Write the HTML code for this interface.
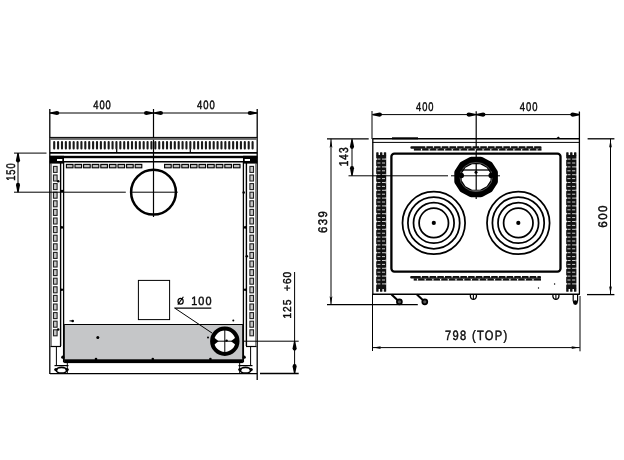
<!DOCTYPE html>
<html><head><meta charset="utf-8"><style>
html,body{margin:0;padding:0;background:#fff;width:624px;height:460px;overflow:hidden}
svg{display:block}
text{fill:#111}
svg{will-change:transform}
</style></head><body>
<svg width="624" height="460" viewBox="0 0 624 460">
<rect width="624" height="460" fill="#fff"/>
<line x1="49.80" y1="109.00" x2="49.80" y2="374.00" stroke="#000" stroke-width="1.3"/>
<line x1="257.20" y1="109.00" x2="257.20" y2="380.00" stroke="#000" stroke-width="1.3"/>
<line x1="153.50" y1="109.00" x2="153.50" y2="217.00" stroke="#000" stroke-width="1.2"/>
<line x1="49.80" y1="113.00" x2="257.20" y2="113.00" stroke="#000" stroke-width="1.0"/>
<path d="M49.80,112.40 L56.92,110.95 Q59.30,110.95 59.30,113.00 Q59.30,115.05 56.92,115.05 L49.80,113.60 Z" fill="#000"/>
<path d="M153.50,112.40 L146.38,110.95 Q144.00,110.95 144.00,113.00 Q144.00,115.05 146.38,115.05 L153.50,113.60 Z" fill="#000"/>
<path d="M153.50,112.40 L160.62,110.95 Q163.00,110.95 163.00,113.00 Q163.00,115.05 160.62,115.05 L153.50,113.60 Z" fill="#000"/>
<path d="M257.20,112.40 L250.07,110.95 Q247.70,110.95 247.70,113.00 Q247.70,115.05 250.07,115.05 L257.20,113.60 Z" fill="#000"/>
<g transform="translate(93.313,109.079) scale(0.7708,1)"><text x="0" y="0" font-family="Liberation Sans" font-size="12.113" letter-spacing="1.211" fill="#000" stroke="#000" stroke-width="0.45" text-rendering="geometricPrecision" xml:space="preserve">400</text></g>
<g transform="translate(197.111,109.079) scale(0.7800,1)"><text x="0" y="0" font-family="Liberation Sans" font-size="12.113" letter-spacing="1.211" fill="#000" stroke="#000" stroke-width="0.45" text-rendering="geometricPrecision" xml:space="preserve">400</text></g>
<rect x="49.80" y="137.50" width="207.40" height="2.40" fill="#6a6a6a"/>
<line x1="49.80" y1="137.40" x2="257.20" y2="137.40" stroke="#000" stroke-width="1.0"/>
<rect x="53.15" y="141.10" width="2.10" height="8.30" fill="#1a1a1a" rx="1"/>
<rect x="57.04" y="141.10" width="2.10" height="8.30" fill="#1a1a1a" rx="1"/>
<rect x="60.93" y="141.10" width="2.10" height="8.30" fill="#1a1a1a" rx="1"/>
<rect x="64.82" y="141.10" width="2.10" height="8.30" fill="#1a1a1a" rx="1"/>
<rect x="68.71" y="141.10" width="2.10" height="8.30" fill="#1a1a1a" rx="1"/>
<rect x="72.60" y="141.10" width="2.10" height="8.30" fill="#1a1a1a" rx="1"/>
<rect x="76.49" y="141.10" width="2.10" height="8.30" fill="#1a1a1a" rx="1"/>
<rect x="80.38" y="141.10" width="2.10" height="8.30" fill="#1a1a1a" rx="1"/>
<rect x="84.27" y="141.10" width="2.10" height="8.30" fill="#1a1a1a" rx="1"/>
<rect x="88.16" y="141.10" width="2.10" height="8.30" fill="#1a1a1a" rx="1"/>
<rect x="92.05" y="141.10" width="2.10" height="8.30" fill="#1a1a1a" rx="1"/>
<rect x="95.94" y="141.10" width="2.10" height="8.30" fill="#1a1a1a" rx="1"/>
<rect x="99.83" y="141.10" width="2.10" height="8.30" fill="#1a1a1a" rx="1"/>
<rect x="103.72" y="141.10" width="2.10" height="8.30" fill="#1a1a1a" rx="1"/>
<rect x="107.61" y="141.10" width="2.10" height="8.30" fill="#1a1a1a" rx="1"/>
<rect x="111.50" y="141.10" width="2.10" height="8.30" fill="#1a1a1a" rx="1"/>
<rect x="115.39" y="141.10" width="2.10" height="8.30" fill="#1a1a1a" rx="1"/>
<rect x="119.28" y="141.10" width="2.10" height="8.30" fill="#1a1a1a" rx="1"/>
<rect x="123.17" y="141.10" width="2.10" height="8.30" fill="#1a1a1a" rx="1"/>
<rect x="127.06" y="141.10" width="2.10" height="8.30" fill="#1a1a1a" rx="1"/>
<rect x="130.95" y="141.10" width="2.10" height="8.30" fill="#1a1a1a" rx="1"/>
<rect x="134.84" y="141.10" width="2.10" height="8.30" fill="#1a1a1a" rx="1"/>
<rect x="138.73" y="141.10" width="2.10" height="8.30" fill="#1a1a1a" rx="1"/>
<rect x="142.62" y="141.10" width="2.10" height="8.30" fill="#1a1a1a" rx="1"/>
<rect x="146.51" y="141.10" width="2.10" height="8.30" fill="#1a1a1a" rx="1"/>
<rect x="150.40" y="141.10" width="2.10" height="8.30" fill="#1a1a1a" rx="1"/>
<rect x="154.29" y="141.10" width="2.10" height="8.30" fill="#1a1a1a" rx="1"/>
<rect x="158.18" y="141.10" width="2.10" height="8.30" fill="#1a1a1a" rx="1"/>
<rect x="162.07" y="141.10" width="2.10" height="8.30" fill="#1a1a1a" rx="1"/>
<rect x="165.96" y="141.10" width="2.10" height="8.30" fill="#1a1a1a" rx="1"/>
<rect x="169.85" y="141.10" width="2.10" height="8.30" fill="#1a1a1a" rx="1"/>
<rect x="173.74" y="141.10" width="2.10" height="8.30" fill="#1a1a1a" rx="1"/>
<rect x="177.63" y="141.10" width="2.10" height="8.30" fill="#1a1a1a" rx="1"/>
<rect x="181.52" y="141.10" width="2.10" height="8.30" fill="#1a1a1a" rx="1"/>
<rect x="185.41" y="141.10" width="2.10" height="8.30" fill="#1a1a1a" rx="1"/>
<rect x="189.30" y="141.10" width="2.10" height="8.30" fill="#1a1a1a" rx="1"/>
<rect x="193.19" y="141.10" width="2.10" height="8.30" fill="#1a1a1a" rx="1"/>
<rect x="197.08" y="141.10" width="2.10" height="8.30" fill="#1a1a1a" rx="1"/>
<rect x="200.97" y="141.10" width="2.10" height="8.30" fill="#1a1a1a" rx="1"/>
<rect x="204.86" y="141.10" width="2.10" height="8.30" fill="#1a1a1a" rx="1"/>
<rect x="208.75" y="141.10" width="2.10" height="8.30" fill="#1a1a1a" rx="1"/>
<rect x="212.64" y="141.10" width="2.10" height="8.30" fill="#1a1a1a" rx="1"/>
<rect x="216.53" y="141.10" width="2.10" height="8.30" fill="#1a1a1a" rx="1"/>
<rect x="220.42" y="141.10" width="2.10" height="8.30" fill="#1a1a1a" rx="1"/>
<rect x="224.31" y="141.10" width="2.10" height="8.30" fill="#1a1a1a" rx="1"/>
<rect x="228.20" y="141.10" width="2.10" height="8.30" fill="#1a1a1a" rx="1"/>
<rect x="232.09" y="141.10" width="2.10" height="8.30" fill="#1a1a1a" rx="1"/>
<rect x="235.98" y="141.10" width="2.10" height="8.30" fill="#1a1a1a" rx="1"/>
<rect x="239.87" y="141.10" width="2.10" height="8.30" fill="#1a1a1a" rx="1"/>
<rect x="243.76" y="141.10" width="2.10" height="8.30" fill="#1a1a1a" rx="1"/>
<rect x="247.65" y="141.10" width="2.10" height="8.30" fill="#1a1a1a" rx="1"/>
<rect x="251.54" y="141.10" width="2.10" height="8.30" fill="#1a1a1a" rx="1"/>
<line x1="116.70" y1="149.00" x2="116.70" y2="152.00" stroke="#000" stroke-width="1.2"/>
<line x1="190.30" y1="149.00" x2="190.30" y2="152.00" stroke="#000" stroke-width="1.2"/>
<line x1="49.80" y1="152.80" x2="257.20" y2="152.80" stroke="#000" stroke-width="1.8"/>
<rect x="49.80" y="155.80" width="207.40" height="2.40" fill="#000"/>
<rect x="49.80" y="155.80" width="14.20" height="7.80" fill="#000"/>
<rect x="243.00" y="155.80" width="14.20" height="7.80" fill="#000"/>
<rect x="57.00" y="159.00" width="5.30" height="2.70" fill="#fff"/>
<rect x="244.70" y="159.00" width="5.30" height="2.70" fill="#fff"/>
<line x1="49.80" y1="161.80" x2="257.20" y2="161.80" stroke="#000" stroke-width="1.6"/>
<rect x="66.40" y="164.40" width="6.60" height="3.40" fill="#bbb" stroke="#000" stroke-width="1.1"/>
<rect x="164.60" y="164.40" width="6.60" height="3.40" fill="#bbb" stroke="#000" stroke-width="1.1"/>
<rect x="75.00" y="164.40" width="6.60" height="3.40" fill="#bbb" stroke="#000" stroke-width="1.1"/>
<rect x="173.20" y="164.40" width="6.60" height="3.40" fill="#bbb" stroke="#000" stroke-width="1.1"/>
<rect x="83.60" y="164.40" width="6.60" height="3.40" fill="#bbb" stroke="#000" stroke-width="1.1"/>
<rect x="181.80" y="164.40" width="6.60" height="3.40" fill="#bbb" stroke="#000" stroke-width="1.1"/>
<rect x="92.20" y="164.40" width="6.60" height="3.40" fill="#bbb" stroke="#000" stroke-width="1.1"/>
<rect x="190.40" y="164.40" width="6.60" height="3.40" fill="#bbb" stroke="#000" stroke-width="1.1"/>
<rect x="100.80" y="164.40" width="6.60" height="3.40" fill="#bbb" stroke="#000" stroke-width="1.1"/>
<rect x="199.00" y="164.40" width="6.60" height="3.40" fill="#bbb" stroke="#000" stroke-width="1.1"/>
<rect x="109.40" y="164.40" width="6.60" height="3.40" fill="#bbb" stroke="#000" stroke-width="1.1"/>
<rect x="207.60" y="164.40" width="6.60" height="3.40" fill="#bbb" stroke="#000" stroke-width="1.1"/>
<rect x="118.00" y="164.40" width="6.60" height="3.40" fill="#bbb" stroke="#000" stroke-width="1.1"/>
<rect x="216.20" y="164.40" width="6.60" height="3.40" fill="#bbb" stroke="#000" stroke-width="1.1"/>
<rect x="126.60" y="164.40" width="6.60" height="3.40" fill="#bbb" stroke="#000" stroke-width="1.1"/>
<rect x="224.80" y="164.40" width="6.60" height="3.40" fill="#bbb" stroke="#000" stroke-width="1.1"/>
<rect x="135.20" y="164.40" width="6.60" height="3.40" fill="#bbb" stroke="#000" stroke-width="1.1"/>
<rect x="233.40" y="164.40" width="6.60" height="3.40" fill="#bbb" stroke="#000" stroke-width="1.1"/>
<line x1="60.60" y1="162.00" x2="60.60" y2="346.00" stroke="#000" stroke-width="1.4"/>
<line x1="63.60" y1="162.00" x2="63.60" y2="362.00" stroke="#000" stroke-width="1.3"/>
<line x1="50.50" y1="346.50" x2="61.00" y2="346.50" stroke="#000" stroke-width="1.2"/>
<line x1="51.30" y1="163.00" x2="51.30" y2="346.00" stroke="#444" stroke-width="0.8"/>
<rect x="53.50" y="166.40" width="3.60" height="6.00" fill="#c8c8c8" stroke="#222" stroke-width="1.1"/>
<rect x="53.50" y="175.00" width="3.60" height="6.00" fill="#c8c8c8" stroke="#222" stroke-width="1.1"/>
<rect x="53.50" y="183.60" width="3.60" height="6.00" fill="#c8c8c8" stroke="#222" stroke-width="1.1"/>
<rect x="53.50" y="192.20" width="3.60" height="6.00" fill="#c8c8c8" stroke="#222" stroke-width="1.1"/>
<rect x="53.50" y="200.80" width="3.60" height="6.00" fill="#c8c8c8" stroke="#222" stroke-width="1.1"/>
<rect x="53.50" y="209.40" width="3.60" height="6.00" fill="#c8c8c8" stroke="#222" stroke-width="1.1"/>
<rect x="53.50" y="218.00" width="3.60" height="6.00" fill="#c8c8c8" stroke="#222" stroke-width="1.1"/>
<rect x="53.50" y="226.60" width="3.60" height="6.00" fill="#c8c8c8" stroke="#222" stroke-width="1.1"/>
<rect x="53.50" y="235.20" width="3.60" height="6.00" fill="#c8c8c8" stroke="#222" stroke-width="1.1"/>
<rect x="53.50" y="243.80" width="3.60" height="6.00" fill="#c8c8c8" stroke="#222" stroke-width="1.1"/>
<rect x="53.50" y="252.40" width="3.60" height="6.00" fill="#c8c8c8" stroke="#222" stroke-width="1.1"/>
<rect x="53.50" y="261.00" width="3.60" height="6.00" fill="#c8c8c8" stroke="#222" stroke-width="1.1"/>
<rect x="53.50" y="269.60" width="3.60" height="6.00" fill="#c8c8c8" stroke="#222" stroke-width="1.1"/>
<rect x="53.50" y="278.20" width="3.60" height="6.00" fill="#c8c8c8" stroke="#222" stroke-width="1.1"/>
<rect x="53.50" y="286.80" width="3.60" height="6.00" fill="#c8c8c8" stroke="#222" stroke-width="1.1"/>
<rect x="53.50" y="295.40" width="3.60" height="6.00" fill="#c8c8c8" stroke="#222" stroke-width="1.1"/>
<rect x="53.50" y="304.00" width="3.60" height="6.00" fill="#c8c8c8" stroke="#222" stroke-width="1.1"/>
<rect x="53.50" y="312.60" width="3.60" height="6.00" fill="#c8c8c8" stroke="#222" stroke-width="1.1"/>
<rect x="53.50" y="321.20" width="3.60" height="6.00" fill="#c8c8c8" stroke="#222" stroke-width="1.1"/>
<rect x="53.50" y="329.80" width="3.60" height="6.00" fill="#c8c8c8" stroke="#222" stroke-width="1.1"/>
<line x1="56.40" y1="347.00" x2="56.40" y2="366.00" stroke="#000" stroke-width="1.0"/>
<line x1="246.40" y1="162.00" x2="246.40" y2="346.00" stroke="#000" stroke-width="1.4"/>
<line x1="243.40" y1="162.00" x2="243.40" y2="362.00" stroke="#000" stroke-width="1.3"/>
<line x1="256.50" y1="346.50" x2="246.00" y2="346.50" stroke="#000" stroke-width="1.2"/>
<line x1="255.70" y1="163.00" x2="255.70" y2="346.00" stroke="#444" stroke-width="0.8"/>
<rect x="249.90" y="166.40" width="3.60" height="6.00" fill="#c8c8c8" stroke="#222" stroke-width="1.1"/>
<rect x="249.90" y="175.00" width="3.60" height="6.00" fill="#c8c8c8" stroke="#222" stroke-width="1.1"/>
<rect x="249.90" y="183.60" width="3.60" height="6.00" fill="#c8c8c8" stroke="#222" stroke-width="1.1"/>
<rect x="249.90" y="192.20" width="3.60" height="6.00" fill="#c8c8c8" stroke="#222" stroke-width="1.1"/>
<rect x="249.90" y="200.80" width="3.60" height="6.00" fill="#c8c8c8" stroke="#222" stroke-width="1.1"/>
<rect x="249.90" y="209.40" width="3.60" height="6.00" fill="#c8c8c8" stroke="#222" stroke-width="1.1"/>
<rect x="249.90" y="218.00" width="3.60" height="6.00" fill="#c8c8c8" stroke="#222" stroke-width="1.1"/>
<rect x="249.90" y="226.60" width="3.60" height="6.00" fill="#c8c8c8" stroke="#222" stroke-width="1.1"/>
<rect x="249.90" y="235.20" width="3.60" height="6.00" fill="#c8c8c8" stroke="#222" stroke-width="1.1"/>
<rect x="249.90" y="243.80" width="3.60" height="6.00" fill="#c8c8c8" stroke="#222" stroke-width="1.1"/>
<rect x="249.90" y="252.40" width="3.60" height="6.00" fill="#c8c8c8" stroke="#222" stroke-width="1.1"/>
<rect x="249.90" y="261.00" width="3.60" height="6.00" fill="#c8c8c8" stroke="#222" stroke-width="1.1"/>
<rect x="249.90" y="269.60" width="3.60" height="6.00" fill="#c8c8c8" stroke="#222" stroke-width="1.1"/>
<rect x="249.90" y="278.20" width="3.60" height="6.00" fill="#c8c8c8" stroke="#222" stroke-width="1.1"/>
<rect x="249.90" y="286.80" width="3.60" height="6.00" fill="#c8c8c8" stroke="#222" stroke-width="1.1"/>
<rect x="249.90" y="295.40" width="3.60" height="6.00" fill="#c8c8c8" stroke="#222" stroke-width="1.1"/>
<rect x="249.90" y="304.00" width="3.60" height="6.00" fill="#c8c8c8" stroke="#222" stroke-width="1.1"/>
<rect x="249.90" y="312.60" width="3.60" height="6.00" fill="#c8c8c8" stroke="#222" stroke-width="1.1"/>
<rect x="249.90" y="321.20" width="3.60" height="6.00" fill="#c8c8c8" stroke="#222" stroke-width="1.1"/>
<rect x="249.90" y="329.80" width="3.60" height="6.00" fill="#c8c8c8" stroke="#222" stroke-width="1.1"/>
<line x1="250.60" y1="347.00" x2="250.60" y2="366.00" stroke="#000" stroke-width="1.0"/>
<circle cx="62.00" cy="191.00" r="1.30" fill="#000"/>
<circle cx="61.80" cy="227.40" r="1.30" fill="#000"/>
<circle cx="61.80" cy="289.80" r="1.30" fill="#000"/>
<circle cx="58.20" cy="329.50" r="1.30" fill="#000"/>
<circle cx="58.20" cy="181.30" r="1.30" fill="#000"/>
<circle cx="245.20" cy="227.40" r="1.30" fill="#000"/>
<circle cx="246.80" cy="256.30" r="1.30" fill="#000"/>
<circle cx="245.20" cy="289.80" r="1.30" fill="#000"/>
<circle cx="243.70" cy="192.50" r="1.30" fill="#000"/>
<line x1="69.50" y1="320.90" x2="72.50" y2="320.90" stroke="#000" stroke-width="1.0"/>
<circle cx="153.50" cy="192.20" r="22.40" fill="none" stroke="#000" stroke-width="2.5"/>
<line x1="14.00" y1="192.20" x2="125.80" y2="192.20" stroke="#000" stroke-width="1.0"/>
<line x1="130.50" y1="192.20" x2="177.70" y2="192.20" stroke="#000" stroke-width="1.0"/>
<line x1="14.00" y1="153.10" x2="46.50" y2="153.10" stroke="#000" stroke-width="1.0"/>
<line x1="18.00" y1="153.10" x2="18.00" y2="192.20" stroke="#000" stroke-width="1.0"/>
<path d="M17.40,153.10 L15.95,160.22 Q15.95,162.60 18.00,162.60 Q20.05,162.60 20.05,160.22 L18.60,153.10 Z" fill="#000"/>
<path d="M17.40,192.20 L15.95,185.07 Q15.95,182.70 18.00,182.70 Q20.05,182.70 20.05,185.07 L18.60,192.20 Z" fill="#000"/>
<g transform="translate(14.675,180.852) rotate(-90) scale(0.7499,1)"><text x="0" y="0" font-family="Liberation Sans" font-size="12.535" letter-spacing="1.254" fill="#000" stroke="#000" stroke-width="0.45" text-rendering="geometricPrecision" xml:space="preserve">150</text></g>
<rect x="138.40" y="280.40" width="31.20" height="39.20" fill="none" stroke="#000" stroke-width="1.0"/>
<rect x="64.40" y="324.50" width="178.30" height="35.50" fill="#c5c6c8"/>
<line x1="64.40" y1="324.50" x2="242.70" y2="324.50" stroke="#000" stroke-width="1.2"/>
<rect x="64.40" y="359.30" width="178.30" height="3.80" fill="#000"/>
<line x1="64.20" y1="324.00" x2="64.20" y2="363.00" stroke="#000" stroke-width="1.2"/>
<line x1="242.80" y1="324.00" x2="242.80" y2="363.00" stroke="#000" stroke-width="1.2"/>
<line x1="50.00" y1="373.60" x2="257.20" y2="373.60" stroke="#000" stroke-width="1.3"/>
<line x1="67.30" y1="363.00" x2="67.30" y2="374.00" stroke="#000" stroke-width="1.0"/>
<line x1="239.70" y1="363.00" x2="239.70" y2="374.00" stroke="#000" stroke-width="1.0"/>
<circle cx="97.80" cy="337.40" r="1.50" fill="#000"/>
<circle cx="96.00" cy="359.00" r="1.30" fill="#000"/>
<circle cx="152.80" cy="359.00" r="1.30" fill="#000"/>
<circle cx="210.40" cy="359.00" r="1.30" fill="#000"/>
<circle cx="233.30" cy="320.60" r="1.00" fill="#000"/>
<circle cx="72.70" cy="321.00" r="1.30" fill="#000"/>
<circle cx="208.00" cy="337.40" r="1.00" fill="#000"/>
<circle cx="62.80" cy="357.20" r="1.60" fill="#000"/>
<circle cx="244.20" cy="357.20" r="1.60" fill="#000"/>
<line x1="54.50" y1="365.60" x2="68.50" y2="365.60" stroke="#000" stroke-width="1.2"/>
<ellipse cx="61.50" cy="370.2" rx="5.2" ry="2.8" fill="none" stroke="#000" stroke-width="1.6"/>
<circle cx="55.90" cy="369.60" r="1.70" fill="#000"/>
<circle cx="67.10" cy="369.60" r="1.70" fill="#000"/>
<line x1="238.50" y1="365.60" x2="252.50" y2="365.60" stroke="#000" stroke-width="1.2"/>
<ellipse cx="245.50" cy="370.2" rx="5.2" ry="2.8" fill="none" stroke="#000" stroke-width="1.6"/>
<circle cx="239.90" cy="369.60" r="1.70" fill="#000"/>
<circle cx="251.10" cy="369.60" r="1.70" fill="#000"/>
<ellipse cx="180.6" cy="301.3" rx="2.6" ry="2.9" fill="none" stroke="#000" stroke-width="1.2"/>
<line x1="183.40" y1="296.80" x2="177.80" y2="304.60" stroke="#000" stroke-width="1.1"/>
<g transform="translate(191.231,304.580) scale(0.9069,1)"><text x="0" y="0" font-family="Liberation Sans" font-size="11.972" letter-spacing="1.197" fill="#000" stroke="#000" stroke-width="0.45" text-rendering="geometricPrecision" xml:space="preserve">100</text></g>
<line x1="174.60" y1="308.10" x2="211.30" y2="308.10" stroke="#000" stroke-width="1.2"/>
<line x1="174.60" y1="308.00" x2="212.00" y2="333.00" stroke="#000" stroke-width="1.0"/>
<circle cx="224.80" cy="341.20" r="12.70" fill="#fff" stroke="#000" stroke-width="4.0"/>
<line x1="211.00" y1="341.20" x2="238.00" y2="341.20" stroke="#000" stroke-width="1.0"/>
<line x1="224.80" y1="329.00" x2="224.80" y2="353.00" stroke="#000" stroke-width="1.0"/>
<polygon points="212.8,336.6 218.6,341.2 212.8,345.8" fill="#000"/>
<polygon points="236.8,336.6 231.0,341.2 236.8,345.8" fill="#000"/>
<circle cx="226.60" cy="340.60" r="1.20" fill="#000"/>
<line x1="244.00" y1="341.20" x2="298.70" y2="341.20" stroke="#000" stroke-width="1.0"/>
<line x1="260.00" y1="373.50" x2="298.70" y2="373.50" stroke="#000" stroke-width="1.3"/>
<line x1="294.60" y1="272.00" x2="294.60" y2="373.50" stroke="#000" stroke-width="1.0"/>
<path d="M294.00,341.20 L292.55,348.32 Q292.55,350.70 294.60,350.70 Q296.65,350.70 296.65,348.32 L295.20,341.20 Z" fill="#000"/>
<path d="M294.00,373.50 L292.55,366.38 Q292.55,364.00 294.60,364.00 Q296.65,364.00 296.65,366.38 L295.20,373.50 Z" fill="#000"/>
<g transform="translate(290.886,318.612) rotate(-90) scale(0.8902,1)"><text x="0" y="0" font-family="Liberation Sans" font-size="11.408" letter-spacing="1.141" fill="#000" stroke="#000" stroke-width="0.45" text-rendering="geometricPrecision" xml:space="preserve">125  +60</text></g>
<line x1="372.00" y1="111.00" x2="372.00" y2="139.00" stroke="#000" stroke-width="1.0"/>
<line x1="372.80" y1="138.50" x2="372.80" y2="294.50" stroke="#000" stroke-width="1.3"/>
<line x1="372.50" y1="294.00" x2="372.50" y2="351.00" stroke="#000" stroke-width="1.0"/>
<line x1="579.40" y1="111.50" x2="579.40" y2="294.50" stroke="#000" stroke-width="1.3"/>
<line x1="580.00" y1="296.00" x2="580.00" y2="351.30" stroke="#000" stroke-width="1.0"/>
<line x1="476.20" y1="111.30" x2="476.20" y2="199.00" stroke="#000" stroke-width="1.2"/>
<line x1="372.50" y1="114.60" x2="579.80" y2="114.60" stroke="#000" stroke-width="1.0"/>
<path d="M372.50,114.00 L379.62,112.55 Q382.00,112.55 382.00,114.60 Q382.00,116.65 379.62,116.65 L372.50,115.20 Z" fill="#000"/>
<path d="M476.00,114.00 L468.88,112.55 Q466.50,112.55 466.50,114.60 Q466.50,116.65 468.88,116.65 L476.00,115.20 Z" fill="#000"/>
<path d="M476.00,114.00 L483.12,112.55 Q485.50,112.55 485.50,114.60 Q485.50,116.65 483.12,116.65 L476.00,115.20 Z" fill="#000"/>
<path d="M579.80,114.00 L572.67,112.55 Q570.30,112.55 570.30,114.60 Q570.30,116.65 572.67,116.65 L579.80,115.20 Z" fill="#000"/>
<g transform="translate(416.064,110.875) scale(0.7427,1)"><text x="0" y="0" font-family="Liberation Sans" font-size="12.535" letter-spacing="1.254" fill="#000" stroke="#000" stroke-width="0.45" text-rendering="geometricPrecision" xml:space="preserve">400</text></g>
<g transform="translate(519.811,110.875) scale(0.7537,1)"><text x="0" y="0" font-family="Liberation Sans" font-size="12.535" letter-spacing="1.254" fill="#000" stroke="#000" stroke-width="0.45" text-rendering="geometricPrecision" xml:space="preserve">400</text></g>
<line x1="372.50" y1="138.80" x2="579.80" y2="138.80" stroke="#000" stroke-width="1.5"/>
<line x1="392.00" y1="138.30" x2="418.00" y2="138.30" stroke="#000" stroke-width="2.0"/>
<polygon points="556.3,138.2 558.3,136.6 560.3,138.2" fill="#000"/>
<line x1="372.50" y1="142.40" x2="579.80" y2="142.40" stroke="#000" stroke-width="1.0"/>
<line x1="372.50" y1="294.20" x2="579.80" y2="294.20" stroke="#000" stroke-width="1.6"/>
<rect x="376.20" y="152.20" width="2.40" height="3.40" fill="#111" rx="0.6"/>
<rect x="376.20" y="288.40" width="2.40" height="3.40" fill="#111" rx="0.6"/>
<rect x="380.00" y="152.20" width="2.40" height="3.40" fill="#111" rx="0.6"/>
<rect x="380.00" y="288.40" width="2.40" height="3.40" fill="#111" rx="0.6"/>
<rect x="383.80" y="152.20" width="2.40" height="3.40" fill="#111" rx="0.6"/>
<rect x="383.80" y="288.40" width="2.40" height="3.40" fill="#111" rx="0.6"/>
<rect x="376.20" y="155.00" width="10.00" height="134.00" fill="#111"/>
<rect x="377.40" y="158.60" width="3.00" height="1.00" fill="#c8c8c8"/>
<rect x="382.00" y="158.60" width="3.00" height="1.00" fill="#c8c8c8"/>
<rect x="376.10" y="158.30" width="0.90" height="1.60" fill="#fff"/>
<rect x="385.40" y="158.30" width="0.90" height="1.60" fill="#fff"/>
<rect x="377.40" y="162.50" width="3.00" height="1.00" fill="#c8c8c8"/>
<rect x="382.00" y="162.50" width="3.00" height="1.00" fill="#c8c8c8"/>
<rect x="377.40" y="166.40" width="3.00" height="1.00" fill="#c8c8c8"/>
<rect x="382.00" y="166.40" width="3.00" height="1.00" fill="#c8c8c8"/>
<rect x="376.10" y="166.10" width="0.90" height="1.60" fill="#fff"/>
<rect x="385.40" y="166.10" width="0.90" height="1.60" fill="#fff"/>
<rect x="377.40" y="170.30" width="3.00" height="1.00" fill="#c8c8c8"/>
<rect x="382.00" y="170.30" width="3.00" height="1.00" fill="#c8c8c8"/>
<rect x="377.40" y="174.20" width="3.00" height="1.00" fill="#c8c8c8"/>
<rect x="382.00" y="174.20" width="3.00" height="1.00" fill="#c8c8c8"/>
<rect x="376.10" y="173.90" width="0.90" height="1.60" fill="#fff"/>
<rect x="385.40" y="173.90" width="0.90" height="1.60" fill="#fff"/>
<rect x="377.40" y="178.10" width="3.00" height="1.00" fill="#c8c8c8"/>
<rect x="382.00" y="178.10" width="3.00" height="1.00" fill="#c8c8c8"/>
<rect x="377.40" y="182.00" width="3.00" height="1.00" fill="#c8c8c8"/>
<rect x="382.00" y="182.00" width="3.00" height="1.00" fill="#c8c8c8"/>
<rect x="376.10" y="181.70" width="0.90" height="1.60" fill="#fff"/>
<rect x="385.40" y="181.70" width="0.90" height="1.60" fill="#fff"/>
<rect x="377.40" y="185.90" width="3.00" height="1.00" fill="#c8c8c8"/>
<rect x="382.00" y="185.90" width="3.00" height="1.00" fill="#c8c8c8"/>
<rect x="377.40" y="189.80" width="3.00" height="1.00" fill="#c8c8c8"/>
<rect x="382.00" y="189.80" width="3.00" height="1.00" fill="#c8c8c8"/>
<rect x="376.10" y="189.50" width="0.90" height="1.60" fill="#fff"/>
<rect x="385.40" y="189.50" width="0.90" height="1.60" fill="#fff"/>
<rect x="377.40" y="193.70" width="3.00" height="1.00" fill="#c8c8c8"/>
<rect x="382.00" y="193.70" width="3.00" height="1.00" fill="#c8c8c8"/>
<rect x="377.40" y="197.60" width="3.00" height="1.00" fill="#c8c8c8"/>
<rect x="382.00" y="197.60" width="3.00" height="1.00" fill="#c8c8c8"/>
<rect x="376.10" y="197.30" width="0.90" height="1.60" fill="#fff"/>
<rect x="385.40" y="197.30" width="0.90" height="1.60" fill="#fff"/>
<rect x="377.40" y="201.50" width="3.00" height="1.00" fill="#c8c8c8"/>
<rect x="382.00" y="201.50" width="3.00" height="1.00" fill="#c8c8c8"/>
<rect x="377.40" y="205.40" width="3.00" height="1.00" fill="#c8c8c8"/>
<rect x="382.00" y="205.40" width="3.00" height="1.00" fill="#c8c8c8"/>
<rect x="376.10" y="205.10" width="0.90" height="1.60" fill="#fff"/>
<rect x="385.40" y="205.10" width="0.90" height="1.60" fill="#fff"/>
<rect x="377.40" y="209.30" width="3.00" height="1.00" fill="#c8c8c8"/>
<rect x="382.00" y="209.30" width="3.00" height="1.00" fill="#c8c8c8"/>
<rect x="377.40" y="213.20" width="3.00" height="1.00" fill="#c8c8c8"/>
<rect x="382.00" y="213.20" width="3.00" height="1.00" fill="#c8c8c8"/>
<rect x="376.10" y="212.90" width="0.90" height="1.60" fill="#fff"/>
<rect x="385.40" y="212.90" width="0.90" height="1.60" fill="#fff"/>
<rect x="377.40" y="217.10" width="3.00" height="1.00" fill="#c8c8c8"/>
<rect x="382.00" y="217.10" width="3.00" height="1.00" fill="#c8c8c8"/>
<rect x="377.40" y="221.00" width="3.00" height="1.00" fill="#c8c8c8"/>
<rect x="382.00" y="221.00" width="3.00" height="1.00" fill="#c8c8c8"/>
<rect x="376.10" y="220.70" width="0.90" height="1.60" fill="#fff"/>
<rect x="385.40" y="220.70" width="0.90" height="1.60" fill="#fff"/>
<rect x="377.40" y="224.90" width="3.00" height="1.00" fill="#c8c8c8"/>
<rect x="382.00" y="224.90" width="3.00" height="1.00" fill="#c8c8c8"/>
<rect x="377.40" y="228.80" width="3.00" height="1.00" fill="#c8c8c8"/>
<rect x="382.00" y="228.80" width="3.00" height="1.00" fill="#c8c8c8"/>
<rect x="376.10" y="228.50" width="0.90" height="1.60" fill="#fff"/>
<rect x="385.40" y="228.50" width="0.90" height="1.60" fill="#fff"/>
<rect x="377.40" y="232.70" width="3.00" height="1.00" fill="#c8c8c8"/>
<rect x="382.00" y="232.70" width="3.00" height="1.00" fill="#c8c8c8"/>
<rect x="377.40" y="236.60" width="3.00" height="1.00" fill="#c8c8c8"/>
<rect x="382.00" y="236.60" width="3.00" height="1.00" fill="#c8c8c8"/>
<rect x="376.10" y="236.30" width="0.90" height="1.60" fill="#fff"/>
<rect x="385.40" y="236.30" width="0.90" height="1.60" fill="#fff"/>
<rect x="377.40" y="240.50" width="3.00" height="1.00" fill="#c8c8c8"/>
<rect x="382.00" y="240.50" width="3.00" height="1.00" fill="#c8c8c8"/>
<rect x="377.40" y="244.40" width="3.00" height="1.00" fill="#c8c8c8"/>
<rect x="382.00" y="244.40" width="3.00" height="1.00" fill="#c8c8c8"/>
<rect x="376.10" y="244.10" width="0.90" height="1.60" fill="#fff"/>
<rect x="385.40" y="244.10" width="0.90" height="1.60" fill="#fff"/>
<rect x="377.40" y="248.30" width="3.00" height="1.00" fill="#c8c8c8"/>
<rect x="382.00" y="248.30" width="3.00" height="1.00" fill="#c8c8c8"/>
<rect x="377.40" y="252.20" width="3.00" height="1.00" fill="#c8c8c8"/>
<rect x="382.00" y="252.20" width="3.00" height="1.00" fill="#c8c8c8"/>
<rect x="376.10" y="251.90" width="0.90" height="1.60" fill="#fff"/>
<rect x="385.40" y="251.90" width="0.90" height="1.60" fill="#fff"/>
<rect x="377.40" y="256.10" width="3.00" height="1.00" fill="#c8c8c8"/>
<rect x="382.00" y="256.10" width="3.00" height="1.00" fill="#c8c8c8"/>
<rect x="377.40" y="260.00" width="3.00" height="1.00" fill="#c8c8c8"/>
<rect x="382.00" y="260.00" width="3.00" height="1.00" fill="#c8c8c8"/>
<rect x="376.10" y="259.70" width="0.90" height="1.60" fill="#fff"/>
<rect x="385.40" y="259.70" width="0.90" height="1.60" fill="#fff"/>
<rect x="377.40" y="263.90" width="3.00" height="1.00" fill="#c8c8c8"/>
<rect x="382.00" y="263.90" width="3.00" height="1.00" fill="#c8c8c8"/>
<rect x="377.40" y="267.80" width="3.00" height="1.00" fill="#c8c8c8"/>
<rect x="382.00" y="267.80" width="3.00" height="1.00" fill="#c8c8c8"/>
<rect x="376.10" y="267.50" width="0.90" height="1.60" fill="#fff"/>
<rect x="385.40" y="267.50" width="0.90" height="1.60" fill="#fff"/>
<rect x="377.40" y="271.70" width="3.00" height="1.00" fill="#c8c8c8"/>
<rect x="382.00" y="271.70" width="3.00" height="1.00" fill="#c8c8c8"/>
<rect x="377.40" y="275.60" width="3.00" height="1.00" fill="#c8c8c8"/>
<rect x="382.00" y="275.60" width="3.00" height="1.00" fill="#c8c8c8"/>
<rect x="376.10" y="275.30" width="0.90" height="1.60" fill="#fff"/>
<rect x="385.40" y="275.30" width="0.90" height="1.60" fill="#fff"/>
<rect x="377.40" y="279.50" width="3.00" height="1.00" fill="#c8c8c8"/>
<rect x="382.00" y="279.50" width="3.00" height="1.00" fill="#c8c8c8"/>
<rect x="377.40" y="283.40" width="3.00" height="1.00" fill="#c8c8c8"/>
<rect x="382.00" y="283.40" width="3.00" height="1.00" fill="#c8c8c8"/>
<rect x="376.10" y="283.10" width="0.90" height="1.60" fill="#fff"/>
<rect x="385.40" y="283.10" width="0.90" height="1.60" fill="#fff"/>
<rect x="566.20" y="152.20" width="2.40" height="3.40" fill="#111" rx="0.6"/>
<rect x="566.20" y="288.40" width="2.40" height="3.40" fill="#111" rx="0.6"/>
<rect x="570.10" y="152.20" width="2.40" height="3.40" fill="#111" rx="0.6"/>
<rect x="570.10" y="288.40" width="2.40" height="3.40" fill="#111" rx="0.6"/>
<rect x="574.00" y="152.20" width="2.40" height="3.40" fill="#111" rx="0.6"/>
<rect x="574.00" y="288.40" width="2.40" height="3.40" fill="#111" rx="0.6"/>
<rect x="566.20" y="155.00" width="10.20" height="134.00" fill="#111"/>
<rect x="567.40" y="158.60" width="3.10" height="1.00" fill="#c8c8c8"/>
<rect x="572.10" y="158.60" width="3.10" height="1.00" fill="#c8c8c8"/>
<rect x="566.10" y="158.30" width="0.90" height="1.60" fill="#fff"/>
<rect x="575.60" y="158.30" width="0.90" height="1.60" fill="#fff"/>
<rect x="567.40" y="162.50" width="3.10" height="1.00" fill="#c8c8c8"/>
<rect x="572.10" y="162.50" width="3.10" height="1.00" fill="#c8c8c8"/>
<rect x="567.40" y="166.40" width="3.10" height="1.00" fill="#c8c8c8"/>
<rect x="572.10" y="166.40" width="3.10" height="1.00" fill="#c8c8c8"/>
<rect x="566.10" y="166.10" width="0.90" height="1.60" fill="#fff"/>
<rect x="575.60" y="166.10" width="0.90" height="1.60" fill="#fff"/>
<rect x="567.40" y="170.30" width="3.10" height="1.00" fill="#c8c8c8"/>
<rect x="572.10" y="170.30" width="3.10" height="1.00" fill="#c8c8c8"/>
<rect x="567.40" y="174.20" width="3.10" height="1.00" fill="#c8c8c8"/>
<rect x="572.10" y="174.20" width="3.10" height="1.00" fill="#c8c8c8"/>
<rect x="566.10" y="173.90" width="0.90" height="1.60" fill="#fff"/>
<rect x="575.60" y="173.90" width="0.90" height="1.60" fill="#fff"/>
<rect x="567.40" y="178.10" width="3.10" height="1.00" fill="#c8c8c8"/>
<rect x="572.10" y="178.10" width="3.10" height="1.00" fill="#c8c8c8"/>
<rect x="567.40" y="182.00" width="3.10" height="1.00" fill="#c8c8c8"/>
<rect x="572.10" y="182.00" width="3.10" height="1.00" fill="#c8c8c8"/>
<rect x="566.10" y="181.70" width="0.90" height="1.60" fill="#fff"/>
<rect x="575.60" y="181.70" width="0.90" height="1.60" fill="#fff"/>
<rect x="567.40" y="185.90" width="3.10" height="1.00" fill="#c8c8c8"/>
<rect x="572.10" y="185.90" width="3.10" height="1.00" fill="#c8c8c8"/>
<rect x="567.40" y="189.80" width="3.10" height="1.00" fill="#c8c8c8"/>
<rect x="572.10" y="189.80" width="3.10" height="1.00" fill="#c8c8c8"/>
<rect x="566.10" y="189.50" width="0.90" height="1.60" fill="#fff"/>
<rect x="575.60" y="189.50" width="0.90" height="1.60" fill="#fff"/>
<rect x="567.40" y="193.70" width="3.10" height="1.00" fill="#c8c8c8"/>
<rect x="572.10" y="193.70" width="3.10" height="1.00" fill="#c8c8c8"/>
<rect x="567.40" y="197.60" width="3.10" height="1.00" fill="#c8c8c8"/>
<rect x="572.10" y="197.60" width="3.10" height="1.00" fill="#c8c8c8"/>
<rect x="566.10" y="197.30" width="0.90" height="1.60" fill="#fff"/>
<rect x="575.60" y="197.30" width="0.90" height="1.60" fill="#fff"/>
<rect x="567.40" y="201.50" width="3.10" height="1.00" fill="#c8c8c8"/>
<rect x="572.10" y="201.50" width="3.10" height="1.00" fill="#c8c8c8"/>
<rect x="567.40" y="205.40" width="3.10" height="1.00" fill="#c8c8c8"/>
<rect x="572.10" y="205.40" width="3.10" height="1.00" fill="#c8c8c8"/>
<rect x="566.10" y="205.10" width="0.90" height="1.60" fill="#fff"/>
<rect x="575.60" y="205.10" width="0.90" height="1.60" fill="#fff"/>
<rect x="567.40" y="209.30" width="3.10" height="1.00" fill="#c8c8c8"/>
<rect x="572.10" y="209.30" width="3.10" height="1.00" fill="#c8c8c8"/>
<rect x="567.40" y="213.20" width="3.10" height="1.00" fill="#c8c8c8"/>
<rect x="572.10" y="213.20" width="3.10" height="1.00" fill="#c8c8c8"/>
<rect x="566.10" y="212.90" width="0.90" height="1.60" fill="#fff"/>
<rect x="575.60" y="212.90" width="0.90" height="1.60" fill="#fff"/>
<rect x="567.40" y="217.10" width="3.10" height="1.00" fill="#c8c8c8"/>
<rect x="572.10" y="217.10" width="3.10" height="1.00" fill="#c8c8c8"/>
<rect x="567.40" y="221.00" width="3.10" height="1.00" fill="#c8c8c8"/>
<rect x="572.10" y="221.00" width="3.10" height="1.00" fill="#c8c8c8"/>
<rect x="566.10" y="220.70" width="0.90" height="1.60" fill="#fff"/>
<rect x="575.60" y="220.70" width="0.90" height="1.60" fill="#fff"/>
<rect x="567.40" y="224.90" width="3.10" height="1.00" fill="#c8c8c8"/>
<rect x="572.10" y="224.90" width="3.10" height="1.00" fill="#c8c8c8"/>
<rect x="567.40" y="228.80" width="3.10" height="1.00" fill="#c8c8c8"/>
<rect x="572.10" y="228.80" width="3.10" height="1.00" fill="#c8c8c8"/>
<rect x="566.10" y="228.50" width="0.90" height="1.60" fill="#fff"/>
<rect x="575.60" y="228.50" width="0.90" height="1.60" fill="#fff"/>
<rect x="567.40" y="232.70" width="3.10" height="1.00" fill="#c8c8c8"/>
<rect x="572.10" y="232.70" width="3.10" height="1.00" fill="#c8c8c8"/>
<rect x="567.40" y="236.60" width="3.10" height="1.00" fill="#c8c8c8"/>
<rect x="572.10" y="236.60" width="3.10" height="1.00" fill="#c8c8c8"/>
<rect x="566.10" y="236.30" width="0.90" height="1.60" fill="#fff"/>
<rect x="575.60" y="236.30" width="0.90" height="1.60" fill="#fff"/>
<rect x="567.40" y="240.50" width="3.10" height="1.00" fill="#c8c8c8"/>
<rect x="572.10" y="240.50" width="3.10" height="1.00" fill="#c8c8c8"/>
<rect x="567.40" y="244.40" width="3.10" height="1.00" fill="#c8c8c8"/>
<rect x="572.10" y="244.40" width="3.10" height="1.00" fill="#c8c8c8"/>
<rect x="566.10" y="244.10" width="0.90" height="1.60" fill="#fff"/>
<rect x="575.60" y="244.10" width="0.90" height="1.60" fill="#fff"/>
<rect x="567.40" y="248.30" width="3.10" height="1.00" fill="#c8c8c8"/>
<rect x="572.10" y="248.30" width="3.10" height="1.00" fill="#c8c8c8"/>
<rect x="567.40" y="252.20" width="3.10" height="1.00" fill="#c8c8c8"/>
<rect x="572.10" y="252.20" width="3.10" height="1.00" fill="#c8c8c8"/>
<rect x="566.10" y="251.90" width="0.90" height="1.60" fill="#fff"/>
<rect x="575.60" y="251.90" width="0.90" height="1.60" fill="#fff"/>
<rect x="567.40" y="256.10" width="3.10" height="1.00" fill="#c8c8c8"/>
<rect x="572.10" y="256.10" width="3.10" height="1.00" fill="#c8c8c8"/>
<rect x="567.40" y="260.00" width="3.10" height="1.00" fill="#c8c8c8"/>
<rect x="572.10" y="260.00" width="3.10" height="1.00" fill="#c8c8c8"/>
<rect x="566.10" y="259.70" width="0.90" height="1.60" fill="#fff"/>
<rect x="575.60" y="259.70" width="0.90" height="1.60" fill="#fff"/>
<rect x="567.40" y="263.90" width="3.10" height="1.00" fill="#c8c8c8"/>
<rect x="572.10" y="263.90" width="3.10" height="1.00" fill="#c8c8c8"/>
<rect x="567.40" y="267.80" width="3.10" height="1.00" fill="#c8c8c8"/>
<rect x="572.10" y="267.80" width="3.10" height="1.00" fill="#c8c8c8"/>
<rect x="566.10" y="267.50" width="0.90" height="1.60" fill="#fff"/>
<rect x="575.60" y="267.50" width="0.90" height="1.60" fill="#fff"/>
<rect x="567.40" y="271.70" width="3.10" height="1.00" fill="#c8c8c8"/>
<rect x="572.10" y="271.70" width="3.10" height="1.00" fill="#c8c8c8"/>
<rect x="567.40" y="275.60" width="3.10" height="1.00" fill="#c8c8c8"/>
<rect x="572.10" y="275.60" width="3.10" height="1.00" fill="#c8c8c8"/>
<rect x="566.10" y="275.30" width="0.90" height="1.60" fill="#fff"/>
<rect x="575.60" y="275.30" width="0.90" height="1.60" fill="#fff"/>
<rect x="567.40" y="279.50" width="3.10" height="1.00" fill="#c8c8c8"/>
<rect x="572.10" y="279.50" width="3.10" height="1.00" fill="#c8c8c8"/>
<rect x="567.40" y="283.40" width="3.10" height="1.00" fill="#c8c8c8"/>
<rect x="572.10" y="283.40" width="3.10" height="1.00" fill="#c8c8c8"/>
<rect x="566.10" y="283.10" width="0.90" height="1.60" fill="#fff"/>
<rect x="575.60" y="283.10" width="0.90" height="1.60" fill="#fff"/>
<rect x="410.40" y="146.20" width="131.10" height="2.50" fill="#111" rx="1"/>
<rect x="413.90" y="148.40" width="127.60" height="2.20" fill="#111"/>
<rect x="425.20" y="146.10" width="1.20" height="1.60" fill="#fff"/>
<rect x="432.90" y="146.10" width="1.20" height="1.60" fill="#fff"/>
<rect x="440.60" y="146.10" width="1.20" height="1.60" fill="#fff"/>
<rect x="448.30" y="146.10" width="1.20" height="1.60" fill="#fff"/>
<rect x="456.00" y="146.10" width="1.20" height="1.60" fill="#fff"/>
<rect x="463.70" y="146.10" width="1.20" height="1.60" fill="#fff"/>
<rect x="471.40" y="146.10" width="1.20" height="1.60" fill="#fff"/>
<rect x="479.10" y="146.10" width="1.20" height="1.60" fill="#fff"/>
<rect x="486.80" y="146.10" width="1.20" height="1.60" fill="#fff"/>
<rect x="494.50" y="146.10" width="1.20" height="1.60" fill="#fff"/>
<rect x="502.20" y="146.10" width="1.20" height="1.60" fill="#fff"/>
<rect x="509.90" y="146.10" width="1.20" height="1.60" fill="#fff"/>
<rect x="517.60" y="146.10" width="1.20" height="1.60" fill="#fff"/>
<rect x="525.30" y="146.10" width="1.20" height="1.60" fill="#fff"/>
<rect x="533.00" y="146.10" width="1.20" height="1.60" fill="#fff"/>
<rect x="420.90" y="148.70" width="1.20" height="2.00" fill="#fff"/>
<rect x="428.60" y="148.70" width="1.20" height="2.00" fill="#fff"/>
<rect x="436.30" y="148.70" width="1.20" height="2.00" fill="#fff"/>
<rect x="444.00" y="148.70" width="1.20" height="2.00" fill="#fff"/>
<rect x="451.70" y="148.70" width="1.20" height="2.00" fill="#fff"/>
<rect x="459.40" y="148.70" width="1.20" height="2.00" fill="#fff"/>
<rect x="467.10" y="148.70" width="1.20" height="2.00" fill="#fff"/>
<rect x="474.80" y="148.70" width="1.20" height="2.00" fill="#fff"/>
<rect x="482.50" y="148.70" width="1.20" height="2.00" fill="#fff"/>
<rect x="490.20" y="148.70" width="1.20" height="2.00" fill="#fff"/>
<rect x="497.90" y="148.70" width="1.20" height="2.00" fill="#fff"/>
<rect x="505.60" y="148.70" width="1.20" height="2.00" fill="#fff"/>
<rect x="513.30" y="148.70" width="1.20" height="2.00" fill="#fff"/>
<rect x="521.00" y="148.70" width="1.20" height="2.00" fill="#fff"/>
<rect x="528.70" y="148.70" width="1.20" height="2.00" fill="#fff"/>
<rect x="536.40" y="148.70" width="1.20" height="2.00" fill="#fff"/>
<rect x="428.15" y="148.00" width="3.00" height="1.20" fill="#555"/>
<rect x="435.85" y="148.00" width="3.00" height="1.20" fill="#555"/>
<rect x="443.55" y="148.00" width="3.00" height="1.20" fill="#555"/>
<rect x="451.25" y="148.00" width="3.00" height="1.20" fill="#555"/>
<rect x="458.95" y="148.00" width="3.00" height="1.20" fill="#555"/>
<rect x="466.65" y="148.00" width="3.00" height="1.20" fill="#555"/>
<rect x="474.35" y="148.00" width="3.00" height="1.20" fill="#555"/>
<rect x="482.05" y="148.00" width="3.00" height="1.20" fill="#555"/>
<rect x="489.75" y="148.00" width="3.00" height="1.20" fill="#555"/>
<rect x="497.45" y="148.00" width="3.00" height="1.20" fill="#555"/>
<rect x="505.15" y="148.00" width="3.00" height="1.20" fill="#555"/>
<rect x="512.85" y="148.00" width="3.00" height="1.20" fill="#555"/>
<rect x="520.55" y="148.00" width="3.00" height="1.20" fill="#555"/>
<rect x="528.25" y="148.00" width="3.00" height="1.20" fill="#555"/>
<rect x="535.95" y="148.00" width="3.00" height="1.20" fill="#555"/>
<rect x="410.20" y="276.00" width="130.80" height="2.60" fill="#111" rx="1"/>
<rect x="413.70" y="278.30" width="127.30" height="2.30" fill="#111"/>
<rect x="420.70" y="275.90" width="1.20" height="1.60" fill="#fff"/>
<rect x="428.40" y="275.90" width="1.20" height="1.60" fill="#fff"/>
<rect x="436.10" y="275.90" width="1.20" height="1.60" fill="#fff"/>
<rect x="443.80" y="275.90" width="1.20" height="1.60" fill="#fff"/>
<rect x="451.50" y="275.90" width="1.20" height="1.60" fill="#fff"/>
<rect x="459.20" y="275.90" width="1.20" height="1.60" fill="#fff"/>
<rect x="466.90" y="275.90" width="1.20" height="1.60" fill="#fff"/>
<rect x="474.60" y="275.90" width="1.20" height="1.60" fill="#fff"/>
<rect x="482.30" y="275.90" width="1.20" height="1.60" fill="#fff"/>
<rect x="490.00" y="275.90" width="1.20" height="1.60" fill="#fff"/>
<rect x="497.70" y="275.90" width="1.20" height="1.60" fill="#fff"/>
<rect x="505.40" y="275.90" width="1.20" height="1.60" fill="#fff"/>
<rect x="513.10" y="275.90" width="1.20" height="1.60" fill="#fff"/>
<rect x="520.80" y="275.90" width="1.20" height="1.60" fill="#fff"/>
<rect x="528.50" y="275.90" width="1.20" height="1.60" fill="#fff"/>
<rect x="536.20" y="275.90" width="1.20" height="1.60" fill="#fff"/>
<rect x="416.90" y="278.70" width="1.20" height="2.00" fill="#fff"/>
<rect x="424.60" y="278.70" width="1.20" height="2.00" fill="#fff"/>
<rect x="432.30" y="278.70" width="1.20" height="2.00" fill="#fff"/>
<rect x="440.00" y="278.70" width="1.20" height="2.00" fill="#fff"/>
<rect x="447.70" y="278.70" width="1.20" height="2.00" fill="#fff"/>
<rect x="455.40" y="278.70" width="1.20" height="2.00" fill="#fff"/>
<rect x="463.10" y="278.70" width="1.20" height="2.00" fill="#fff"/>
<rect x="470.80" y="278.70" width="1.20" height="2.00" fill="#fff"/>
<rect x="478.50" y="278.70" width="1.20" height="2.00" fill="#fff"/>
<rect x="486.20" y="278.70" width="1.20" height="2.00" fill="#fff"/>
<rect x="493.90" y="278.70" width="1.20" height="2.00" fill="#fff"/>
<rect x="501.60" y="278.70" width="1.20" height="2.00" fill="#fff"/>
<rect x="509.30" y="278.70" width="1.20" height="2.00" fill="#fff"/>
<rect x="517.00" y="278.70" width="1.20" height="2.00" fill="#fff"/>
<rect x="524.70" y="278.70" width="1.20" height="2.00" fill="#fff"/>
<rect x="532.40" y="278.70" width="1.20" height="2.00" fill="#fff"/>
<rect x="423.65" y="277.80" width="3.00" height="1.20" fill="#555"/>
<rect x="431.35" y="277.80" width="3.00" height="1.20" fill="#555"/>
<rect x="439.05" y="277.80" width="3.00" height="1.20" fill="#555"/>
<rect x="446.75" y="277.80" width="3.00" height="1.20" fill="#555"/>
<rect x="454.45" y="277.80" width="3.00" height="1.20" fill="#555"/>
<rect x="462.15" y="277.80" width="3.00" height="1.20" fill="#555"/>
<rect x="469.85" y="277.80" width="3.00" height="1.20" fill="#555"/>
<rect x="477.55" y="277.80" width="3.00" height="1.20" fill="#555"/>
<rect x="485.25" y="277.80" width="3.00" height="1.20" fill="#555"/>
<rect x="492.95" y="277.80" width="3.00" height="1.20" fill="#555"/>
<rect x="500.65" y="277.80" width="3.00" height="1.20" fill="#555"/>
<rect x="508.35" y="277.80" width="3.00" height="1.20" fill="#555"/>
<rect x="516.05" y="277.80" width="3.00" height="1.20" fill="#555"/>
<rect x="523.75" y="277.80" width="3.00" height="1.20" fill="#555"/>
<rect x="531.45" y="277.80" width="3.00" height="1.20" fill="#555"/>
<rect x="391.40" y="153.60" width="169.10" height="118.00" fill="none" stroke="#000" stroke-width="2.3" rx="3"/>
<polygon points="494.20,181.42 489.35,189.08 480.95,193.50 471.25,193.50 462.85,189.08 458.00,181.42 458.00,172.58 462.85,164.92 471.25,160.50 480.95,160.50 489.35,164.92 494.20,172.58" fill="none" stroke="#000" stroke-width="7.4" stroke-linejoin="round"/>
<ellipse cx="476.1" cy="177" rx="16.2" ry="14.6" fill="none" stroke="#777" stroke-width="0.7"/>
<line x1="460.70" y1="170.00" x2="491.30" y2="170.00" stroke="#000" stroke-width="1.3"/>
<line x1="348.50" y1="175.80" x2="448.00" y2="175.80" stroke="#000" stroke-width="1.0"/>
<line x1="451.00" y1="175.80" x2="500.00" y2="175.80" stroke="#000" stroke-width="1.0"/>
<circle cx="461.40" cy="175.40" r="2.60" fill="#000"/>
<circle cx="491.10" cy="175.40" r="2.60" fill="#000"/>
<circle cx="476.00" cy="172.30" r="1.50" fill="#000"/>
<line x1="472.40" y1="190.60" x2="480.20" y2="190.60" stroke="#666" stroke-width="0.8"/>
<circle cx="433.80" cy="222.90" r="31.30" fill="none" stroke="#000" stroke-width="1.75"/>
<circle cx="433.80" cy="222.90" r="25.90" fill="none" stroke="#000" stroke-width="1.75"/>
<circle cx="433.80" cy="222.90" r="20.30" fill="none" stroke="#000" stroke-width="1.75"/>
<circle cx="433.80" cy="222.90" r="14.70" fill="none" stroke="#000" stroke-width="1.75"/>
<circle cx="433.80" cy="222.90" r="2.10" fill="#000"/>
<circle cx="518.30" cy="222.90" r="31.30" fill="none" stroke="#000" stroke-width="1.75"/>
<circle cx="518.30" cy="222.90" r="25.90" fill="none" stroke="#000" stroke-width="1.75"/>
<circle cx="518.30" cy="222.90" r="20.30" fill="none" stroke="#000" stroke-width="1.75"/>
<circle cx="518.30" cy="222.90" r="14.70" fill="none" stroke="#000" stroke-width="1.75"/>
<circle cx="518.30" cy="222.90" r="2.10" fill="#000"/>
<line x1="391.50" y1="294.40" x2="399.30" y2="301.80" stroke="#000" stroke-width="2.0"/>
<circle cx="399.40" cy="301.80" r="2.50" fill="#555" stroke="#000" stroke-width="1.7"/>
<line x1="416.90" y1="294.40" x2="424.70" y2="301.80" stroke="#000" stroke-width="2.0"/>
<circle cx="424.80" cy="301.80" r="2.50" fill="#555" stroke="#000" stroke-width="1.7"/>
<path d="M470.4,294.5 L470.4,296.5 Q470.79999999999995,299.3 473.4,299.3 Q476.0,299.3 476.4,296.5 L476.4,294.5" fill="none" stroke="#000" stroke-width="1.3"/>
<line x1="473.40" y1="294.50" x2="473.40" y2="299.30" stroke="#000" stroke-width="1.1"/>
<path d="M552.9,294.5 L552.9,296.5 Q553.3,299.3 555.9,299.3 Q558.5,299.3 558.9,296.5 L558.9,294.5" fill="none" stroke="#000" stroke-width="1.3"/>
<line x1="555.90" y1="294.50" x2="555.90" y2="299.30" stroke="#000" stroke-width="1.1"/>
<path d="M573.2,294.5 L573.2,301 Q575.4,305 577.6,301 L577.6,294.5" fill="none" stroke="#000" stroke-width="1.2"/>
<circle cx="575.40" cy="302.60" r="2.30" fill="#000"/>
<circle cx="538.50" cy="288.00" r="0.70" fill="#000"/>
<circle cx="554.60" cy="284.00" r="0.70" fill="#000"/>
<line x1="327.00" y1="138.80" x2="368.70" y2="138.80" stroke="#000" stroke-width="1.3"/>
<line x1="352.00" y1="138.80" x2="352.00" y2="175.80" stroke="#000" stroke-width="1.0"/>
<path d="M351.40,139.40 L349.95,146.53 Q349.95,148.90 352.00,148.90 Q354.05,148.90 354.05,146.53 L352.60,139.40 Z" fill="#000"/>
<path d="M351.40,175.40 L349.95,168.28 Q349.95,165.90 352.00,165.90 Q354.05,165.90 354.05,168.28 L352.60,175.40 Z" fill="#000"/>
<g transform="translate(348.472,166.314) rotate(-90) scale(0.7937,1)"><text x="0" y="0" font-family="Liberation Sans" font-size="12.817" letter-spacing="1.282" fill="#000" stroke="#000" stroke-width="0.45" text-rendering="geometricPrecision" xml:space="preserve">143</text></g>
<line x1="331.00" y1="138.80" x2="331.00" y2="304.70" stroke="#000" stroke-width="1.0"/>
<path d="M331.00,139.80 L329.60,147.80 L331.00,146.20 L332.40,147.80 Z" fill="#000"/>
<path d="M331.00,304.20 L329.60,296.20 L331.00,297.80 L332.40,296.20 Z" fill="#000"/>
<line x1="327.00" y1="304.70" x2="417.80" y2="304.70" stroke="#000" stroke-width="1.3"/>
<g transform="translate(327.075,232.975) rotate(-90) scale(0.9168,1)"><text x="0" y="0" font-family="Liberation Sans" font-size="12.535" letter-spacing="1.504" fill="#000" stroke="#000" stroke-width="0.45" text-rendering="geometricPrecision" xml:space="preserve">639</text></g>
<line x1="587.60" y1="138.80" x2="614.40" y2="138.80" stroke="#000" stroke-width="1.3"/>
<line x1="587.00" y1="294.60" x2="614.40" y2="294.60" stroke="#000" stroke-width="1.3"/>
<line x1="610.50" y1="138.80" x2="610.50" y2="294.60" stroke="#000" stroke-width="1.0"/>
<path d="M610.50,139.80 L609.10,147.80 L610.50,146.20 L611.90,147.80 Z" fill="#000"/>
<path d="M610.50,294.10 L609.10,286.10 L610.50,287.70 L611.90,286.10 Z" fill="#000"/>
<g transform="translate(607.075,227.682) rotate(-90) scale(0.9293,1)"><text x="0" y="0" font-family="Liberation Sans" font-size="12.535" letter-spacing="1.504" fill="#000" stroke="#000" stroke-width="0.45" text-rendering="geometricPrecision" xml:space="preserve">600</text></g>
<line x1="372.50" y1="347.60" x2="579.80" y2="347.60" stroke="#000" stroke-width="1.0"/>
<path d="M373.10,347.60 L381.10,346.20 L379.50,347.60 L381.10,349.00 Z" fill="#000"/>
<path d="M579.20,347.60 L571.20,346.20 L572.80,347.60 L571.20,349.00 Z" fill="#000"/>
<g transform="translate(444.945,340.463) scale(0.8222,1)"><text x="0" y="0" font-family="Liberation Sans" font-size="13.511" letter-spacing="1.621" fill="#000" stroke="#000" stroke-width="0.45" text-rendering="geometricPrecision" xml:space="preserve">798 (TOP)</text></g>
</svg>
</body></html>
